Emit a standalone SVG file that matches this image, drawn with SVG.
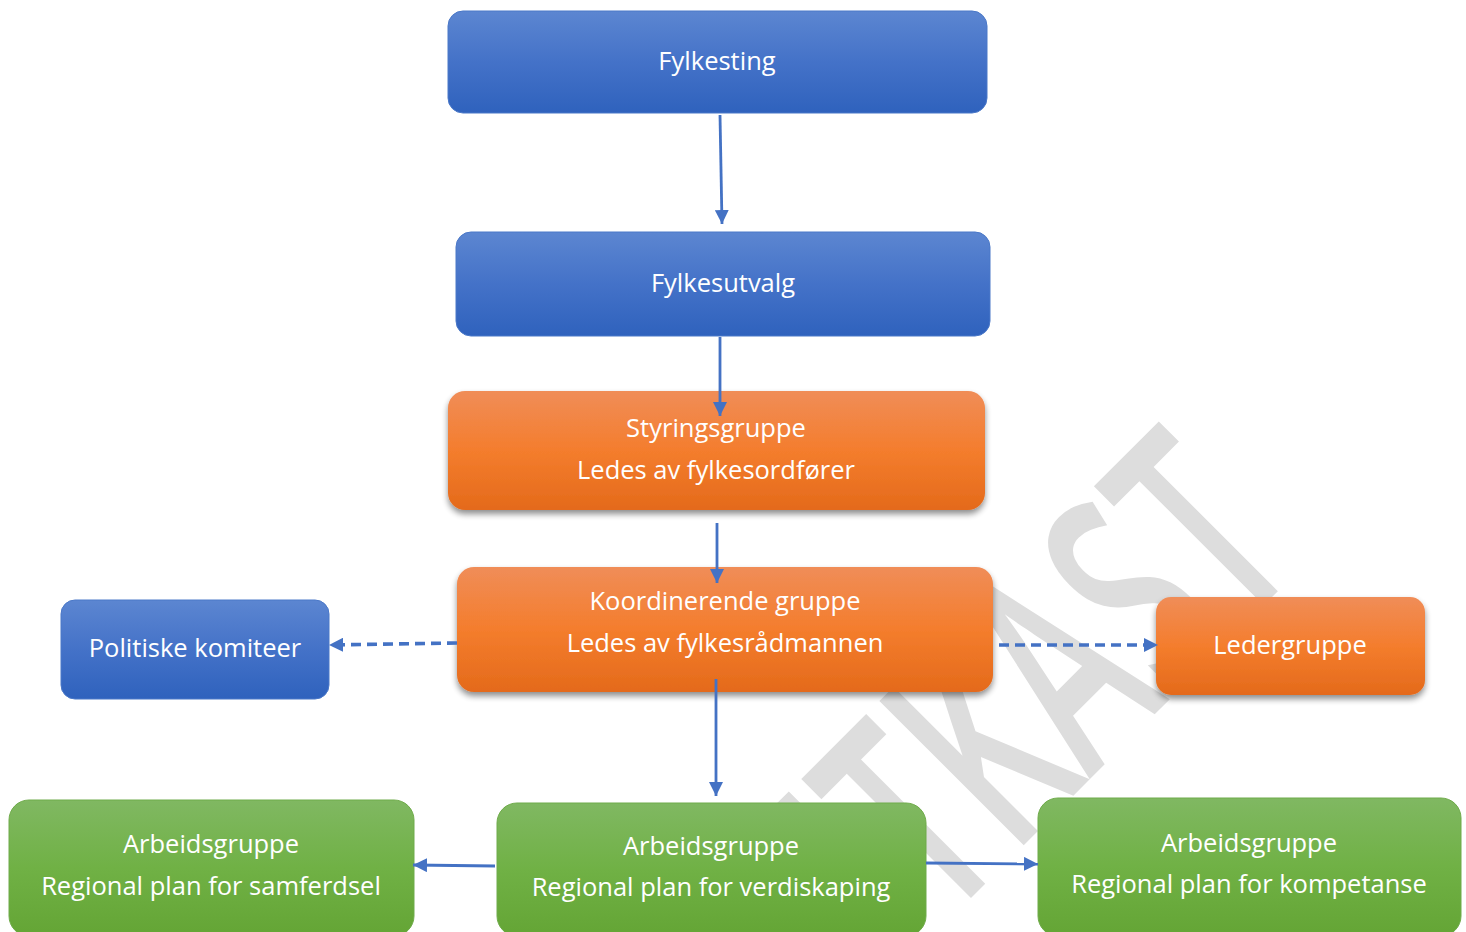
<svg xmlns="http://www.w3.org/2000/svg" width="1466" height="932" viewBox="0 0 1466 932">
<defs>
<linearGradient id="gBlue" x1="0" y1="0" x2="0" y2="1">
<stop offset="0" stop-color="#5c86d1"/>
<stop offset="0.5" stop-color="#4472c8"/>
<stop offset="1" stop-color="#2f62bd"/>
</linearGradient>
<linearGradient id="gOrange" x1="0" y1="0" x2="0" y2="1">
<stop offset="0" stop-color="#f08d58"/>
<stop offset="0.5" stop-color="#f47d2d"/>
<stop offset="1" stop-color="#e46a1b"/>
</linearGradient>
<linearGradient id="gGreen" x1="0" y1="0" x2="0" y2="1">
<stop offset="0" stop-color="#80b862"/>
<stop offset="0.5" stop-color="#70b145"/>
<stop offset="1" stop-color="#64a535"/>
</linearGradient>
<filter id="shadow" x="-10%" y="-20%" width="120%" height="150%">
<feGaussianBlur in="SourceAlpha" stdDeviation="3"/>
<feOffset dx="0" dy="4" result="b"/>
<feComponentTransfer><feFuncA type="linear" slope="0.45"/></feComponentTransfer>
<feMerge><feMergeNode/><feMergeNode in="SourceGraphic"/></feMerge>
</filter>
<marker id="arrow" viewBox="0 0 10 10" refX="10" refY="5" markerWidth="5" markerHeight="5" orient="auto" markerUnits="strokeWidth">
<path d="M0,0 L10,5 L0,10 Z" fill="#4472c4"/>
</marker>
<marker id="arrowD" viewBox="0 0 10 10" refX="10" refY="5" markerWidth="4" markerHeight="4" orient="auto" markerUnits="strokeWidth">
<path d="M0,0 L10,5 L0,10 Z" fill="#4472c4"/>
</marker>
<style>
.blue{fill:url(#gBlue);stroke:#4a78c8;stroke-width:1}
.orange{fill:url(#gOrange);filter:url(#shadow)}
.green{fill:url(#gGreen);stroke:#6fab4a;stroke-width:1}
.lbl{font-family:"Open Sans","Liberation Sans",sans-serif;font-size:25.5px;fill:#ffffff;text-anchor:middle}
.con{fill:none;stroke:#4472c4;stroke-width:2.8;marker-end:url(#arrow)}
.dash{stroke-width:3.6;stroke-dasharray:10,6;marker-end:url(#arrowD)}
.wm{font-family:"Open Sans","Liberation Sans",sans-serif;font-weight:600;font-size:286px;fill:#dddddd}
</style>
</defs>
<rect width="1466" height="932" fill="#ffffff"/>
<text class="wm" x="-638" y="0" textLength="638" lengthAdjust="spacingAndGlyphs" transform="translate(1305,564) rotate(-45)">UTKAST</text>

<g id="fylkesting">
<rect class="blue" x="448" y="11" width="539" height="102" rx="15"/>
<text class="lbl" x="717" y="70">Fylkesting</text>
</g>
<g id="fylkesutvalg">
<rect class="blue" x="456" y="232" width="534" height="104" rx="15"/>
<text class="lbl" x="723" y="292">Fylkesutvalg</text>
</g>
<g id="styringsgruppe">
<rect class="orange" x="448" y="391" width="537" height="119" rx="17"/>
<text class="lbl" x="716" y="437">Styringsgruppe</text>
<text class="lbl" x="716" y="479">Ledes av fylkesordfører</text>
</g>
<g id="koordinerende">
<rect class="orange" x="457" y="567" width="536" height="125" rx="17"/>
<text class="lbl" x="725" y="610">Koordinerende gruppe</text>
<text class="lbl" x="725" y="652">Ledes av fylkesrådmannen</text>
</g>
<g id="politiske">
<rect class="blue" x="61" y="600" width="268" height="99" rx="14"/>
<text class="lbl" x="195" y="657">Politiske komiteer</text>
</g>
<g id="ledergruppe">
<rect class="orange" x="1156" y="597" width="269" height="98" rx="15"/>
<text class="lbl" x="1290" y="654">Ledergruppe</text>
</g>
<g id="samferdsel">
<rect class="green" x="9" y="800" width="405" height="136" rx="20"/>
<text class="lbl" x="211" y="853">Arbeidsgruppe</text>
<text class="lbl" x="211" y="895">Regional plan for samferdsel</text>
</g>
<g id="verdiskaping">
<rect class="green" x="497" y="803" width="429" height="133" rx="20"/>
<text class="lbl" x="711" y="855">Arbeidsgruppe</text>
<text class="lbl" x="711" y="896">Regional plan for verdiskaping</text>
</g>
<g id="kompetanse">
<rect class="green" x="1038" y="798" width="423" height="138" rx="20"/>
<text class="lbl" x="1249" y="852">Arbeidsgruppe</text>
<text class="lbl" x="1249" y="893">Regional plan for kompetanse</text>
</g>

<g id="connectors">
<path class="con" d="M720,115 L722,224"/>
<path class="con" d="M720,337 L720,416"/>
<path class="con" d="M717,523 L717,583"/>
<path class="con dash" d="M457,643 L329,645"/>
<path class="con dash" d="M999,645 L1158,645"/>
<path class="con" d="M716,679 L716,796"/>
<path class="con" d="M495,866 L413,865"/>
<path class="con" d="M926,863 L1038,864"/>
</g>
</svg>
